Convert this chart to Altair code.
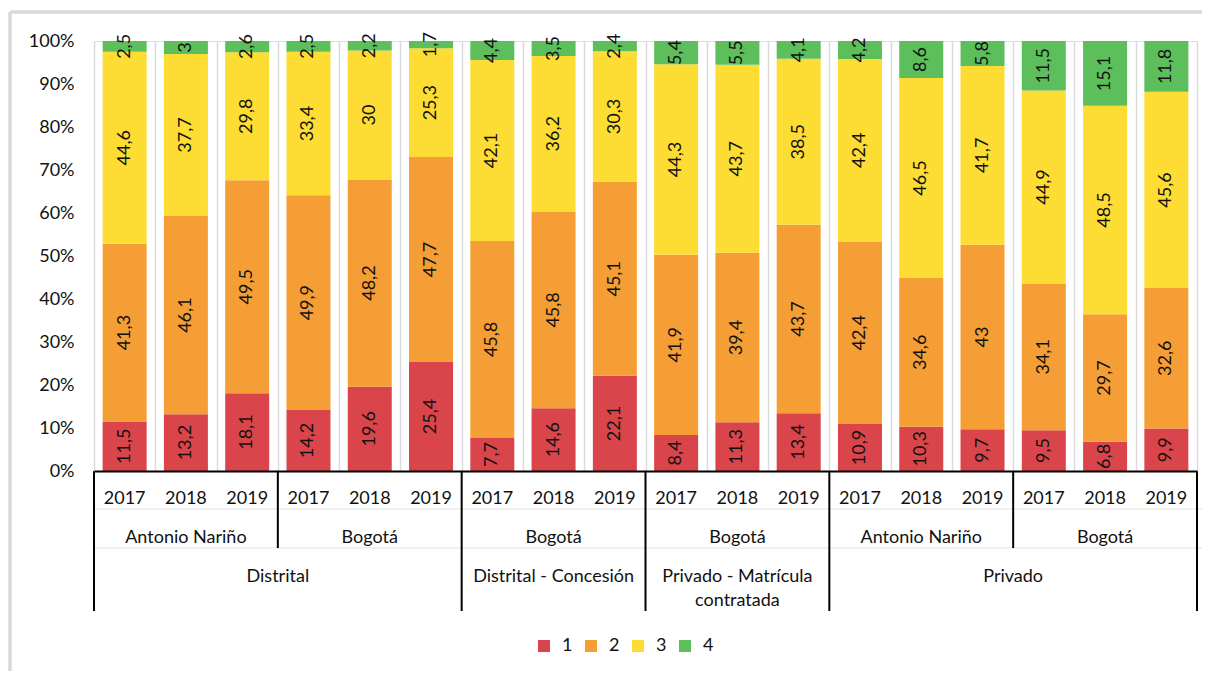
import altair as alt
import pandas as pd

# ---- data ----
years = ["2017", "2018", "2019"] * 6
series = ["1", "2", "3", "4"]
s1 = [11.5, 13.2, 18.1, 14.2, 19.6, 25.4, 7.7, 14.6, 22.1, 8.4, 11.3, 13.4, 10.9, 10.3, 9.7, 9.5, 6.8, 9.9]
s2 = [41.3, 46.1, 49.5, 49.9, 48.2, 47.7, 45.8, 45.8, 45.1, 41.9, 39.4, 43.7, 42.4, 34.6, 43, 34.1, 29.7, 32.6]
s3 = [44.6, 37.7, 29.8, 33.4, 30, 25.3, 42.1, 36.2, 30.3, 44.3, 43.7, 38.5, 42.4, 46.5, 41.7, 44.9, 48.5, 45.6]
s4 = [2.5, 3, 2.6, 2.5, 2.2, 1.7, 4.4, 3.5, 2.4, 5.4, 5.5, 4.1, 4.2, 8.6, 5.8, 11.5, 15.1, 11.8]

loc_names = ["Antonio Nariño", "Bogotá", "Bogotá", "Bogotá", "Antonio Nariño", "Bogotá"]
loc_start = [0, 3, 6, 9, 12, 15]
loc_end = [3, 6, 9, 12, 15, 18]

sec_names = ["Distrital", "Distrital - Concesión", "Privado - Matrícula\ncontratada", "Privado"]
sec_start = [0, 6, 9, 12]
sec_end = [6, 9, 12, 18]

colors = ["#d9454a", "#f59e35", "#fddc33", "#5dbe5c"]

# ---- tables ----
N = len(years)
rows = []
for name, vals in zip(series, [s1, s2, s3, s4]):
    for i, v in enumerate(vals):
        rows.append({"bar": i, "x": i + 0.5, "serie": name, "k": int(name), "v": v})
df = pd.DataFrame(rows)

years_df = pd.DataFrame({"x": [i + 0.5 for i in range(N)], "t": years})
loc_df = pd.DataFrame({"a": loc_start, "b": loc_end, "t": loc_names})
sec_df = pd.DataFrame({"a": sec_start, "b": sec_end, "t": sec_names})
long_b = sorted(set(sec_start + sec_end))
short_b = [b for b in loc_start + loc_end if b not in long_b]
long_df = pd.DataFrame({"x": long_b})
short_df = pd.DataFrame({"x": sorted(set(short_b))})

W, H = 1103, 430
FONT = "Lato"
FS = 18
TXT = "#111111"

xscale = alt.Scale(domain=[0, N], nice=False, zero=False, padding=0)
yscale = alt.Scale(domain=[0, 1], nice=False)

base = alt.Chart(df).transform_window(
    cum="sum(v)", groupby=["bar"], sort=[alt.SortField("k")]
).transform_joinaggregate(
    total="sum(v)", groupby=["bar"]
).transform_calculate(
    y0="(datum.cum - datum.v) / datum.total",
    y1="datum.cum / datum.total",
    mid="(datum.cum - datum.v / 2) / datum.total",
    lbl="replace(toString(datum.v), '.', ',')",
)

bars = base.mark_bar(width=44).encode(
    x=alt.X("x:Q", scale=xscale, title=None,
            axis=alt.Axis(values=list(range(N + 1)), grid=True, gridColor="#d9d9d9",
                          gridWidth=1.5, labels=False, ticks=False, domain=True,
                          domainColor="#000000", domainWidth=2, zindex=1)),
    y=alt.Y("y0:Q", scale=yscale, title=None,
            axis=alt.Axis(values=[i / 10 for i in range(11)], format=".0%", grid=False,
                          ticks=False, domain=False, labelFontSize=FS, labelFont=FONT,
                          labelColor=TXT, labelPadding=20)),
    y2="y1:Q",
    color=alt.Color("serie:N", scale=alt.Scale(domain=series, range=colors),
                    legend=alt.Legend(title=None, orient="none", legendX=441, legendY=596,
                                      direction="horizontal", symbolType="square",
                                      symbolSize=144, symbolStrokeWidth=0,
                                      labelFontSize=FS, labelFont=FONT, labelColor=TXT,
                                      labelOffset=9, columnPadding=9)),
)

labels = base.mark_text(angle=270, fontSize=FS, font=FONT, color=TXT,
                        align="center", baseline="middle").encode(
    x=alt.X("x:Q", scale=xscale, title=None),
    y=alt.Y("mid:Q", scale=yscale, title=None),
    text="lbl:N",
)

year_txt = alt.Chart(years_df).mark_text(fontSize=FS, font=FONT, color=TXT,
                                         baseline="alphabetic").encode(
    x=alt.X("x:Q", scale=xscale, title=None),
    y=alt.value(H + 33),
    text="t:N",
)

loc_txt = alt.Chart(loc_df).transform_calculate(x="(datum.a + datum.b) / 2").mark_text(
    fontSize=FS, font=FONT, color=TXT, baseline="alphabetic").encode(
    x=alt.X("x:Q", scale=xscale, title=None),
    y=alt.value(H + 72),
    text="t:N",
)

sec_txt = alt.Chart(sec_df).transform_calculate(x="(datum.a + datum.b) / 2").mark_text(
    fontSize=FS, font=FONT, color=TXT, baseline="alphabetic", lineBreak="\n",
    lineHeight=24).encode(
    x=alt.X("x:Q", scale=xscale, title=None),
    y=alt.value(H + 111),
    text="t:N",
)

long_rules = alt.Chart(long_df).mark_rule(color="#000000", strokeWidth=2).encode(
    x=alt.X("x:Q", scale=xscale, title=None),
    y=alt.value(H), y2=alt.value(H + 140),
)
short_rules = alt.Chart(short_df).mark_rule(color="#000000", strokeWidth=2).encode(
    x=alt.X("x:Q", scale=xscale, title=None),
    y=alt.value(H), y2=alt.value(H + 77),
)

faint1 = alt.Chart(long_df).mark_rule(color="#efefef", strokeWidth=1).encode(
    x=alt.value(0), x2=alt.value(W + 12), y=alt.value(H + 38))
faint2 = alt.Chart(long_df).mark_rule(color="#efefef", strokeWidth=1).encode(
    x=alt.value(0), x2=alt.value(W + 12), y=alt.value(H + 77))

frame_left = alt.Chart(long_df).mark_rule(color="#d9d9d9", strokeWidth=2.5).encode(
    x=alt.value(-84), y=alt.value(-29), y2=alt.value(H + 210))
frame_top = alt.Chart(long_df).mark_rule(color="#d9d9d9", strokeWidth=2.5).encode(
    x=alt.value(-84), x2=alt.value(W + 10), y=alt.value(-29))

chart = alt.layer(
    frame_left, frame_top, faint1, faint2, bars, labels, year_txt, loc_txt, sec_txt,
    long_rules, short_rules,
).properties(
    width=W, height=H,
    autosize=alt.AutoSizeParams(type="none"),
    padding={"left": 86, "top": 33, "right": 5, "bottom": 200},
).configure_view(stroke=None).configure(background="white")

chart.save("out.html", embed_options={"renderer": "svg", "actions": False})
